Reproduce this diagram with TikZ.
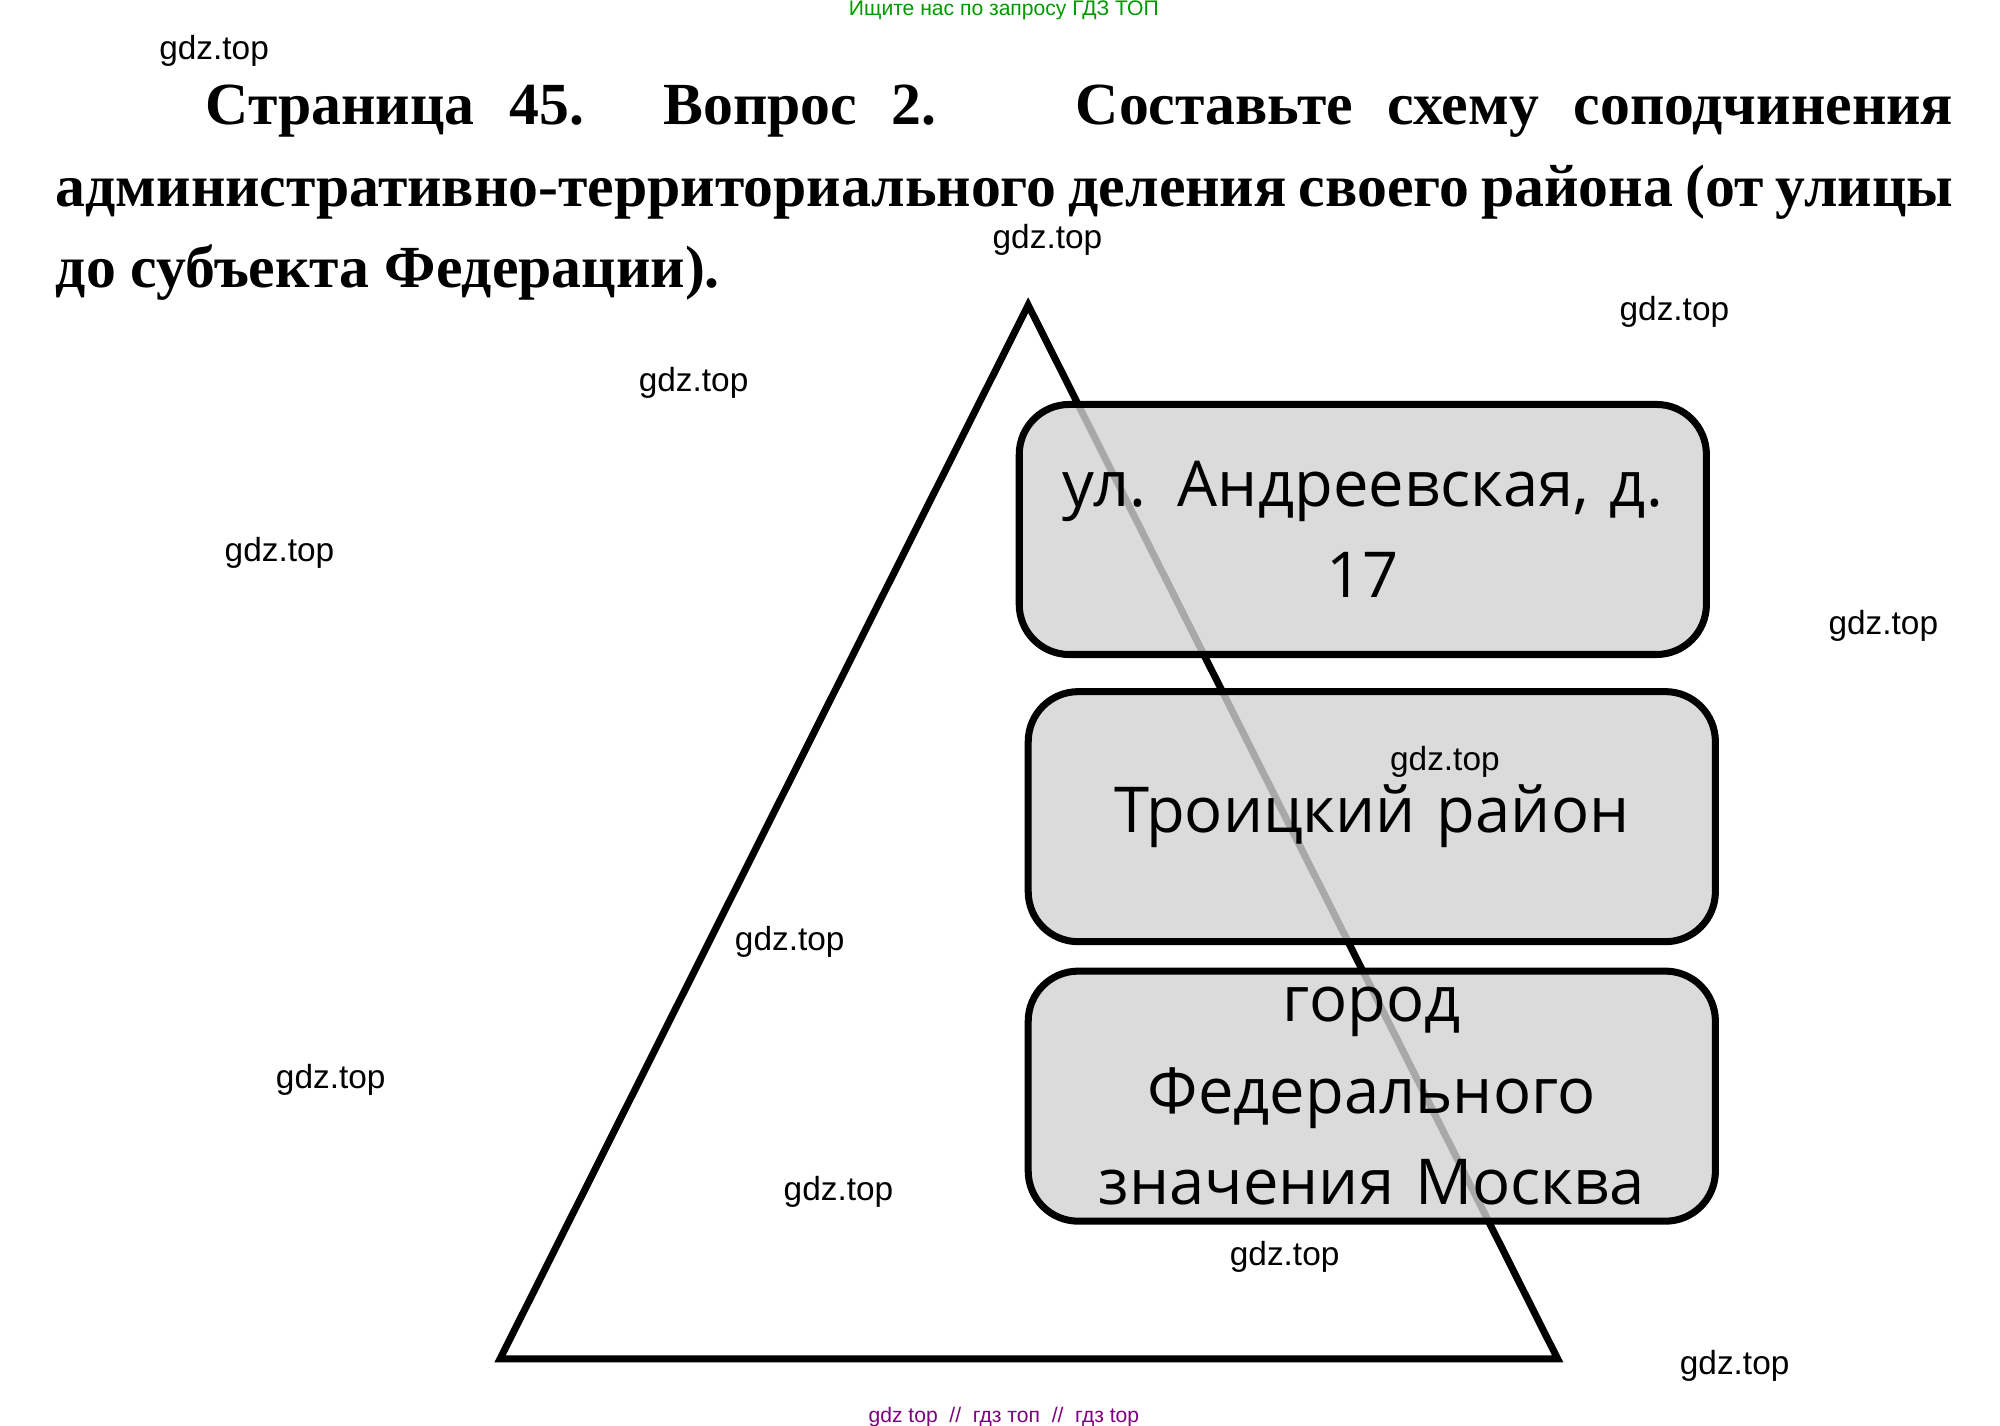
\documentclass[tikz,border=0pt]{standalone}
\usepackage{fontspec}
\setmainfont{Liberation Serif}
\newfontfamily\wmfont{Liberation Sans}
\newfontfamily\boxfont{Open Sans}
\usetikzlibrary{positioning}

\begin{document}
\begin{tikzpicture}[
    x=0.01282cm, y=-0.01282cm,
    level/.style={rectangle, rounded corners=0.5cm, draw, line width=2pt, fill=gray!35, fill opacity=0.8, text opacity=1, font=\boxfont\fontsize{18}{26}\selectfont, align=center, minimum width=6.87cm, minimum height=2.5cm, text width=6.4cm},
    wmark/.style={font=\wmfont\fontsize{9.5}{11}\selectfont},
    pyramid/.style={line width=2pt, line join=miter}
]
\useasboundingbox (0,0) rectangle (1560,1112);

% Header
\node[font=\wmfont\fontsize{6}{7}\selectfont, text=green!60!black] (ad) at (783,8) {Ищите нас по запросу ГДЗ ТОП};
\node[anchor=north west, inner sep=0pt, text width=18.97cm, align=justify, font=\bfseries\fontsize{17}{23.2}\selectfont] (title) at (43,66)
  {\hspace*{1.5cm}Страница 45. Вопрос 2. \quad Составьте схему соподчинения\linebreak административно-территориального деления своего района (от улицы\linebreak до субъекта Федерации).};

% Pyramid
\coordinate (apex) at (802,238);
\coordinate (left) at (390,1060);
\coordinate (right) at (1215,1060);
\draw[pyramid] (apex) -- (left) -- (right) -- cycle;

% Levels
\node[level] (street) at (1063,413) {ул. Андреевская, д.\\17};
\node[level] (district) at (1070,637) {Троицкий район};
\node[level] (city) at (1070,855) {город Федерального\\значения Москва};

% Watermarks
\foreach \x/\y [count=\i] in {167/40, 817/187, 1306/243, 541/299, 218/431, 1469/488, 1127/594, 616/735, 258/842, 654/930, 1002/980, 1353/1065}
  \node[wmark] (gdz\i) at (\x,\y) {gdz.top};
\node[font=\wmfont\fontsize{6}{7}\selectfont, text=violet] (foot) at (783,1105) {gdz top \ // \ гдз топ \ // \ гдз top};
\end{tikzpicture}
\end{document}
